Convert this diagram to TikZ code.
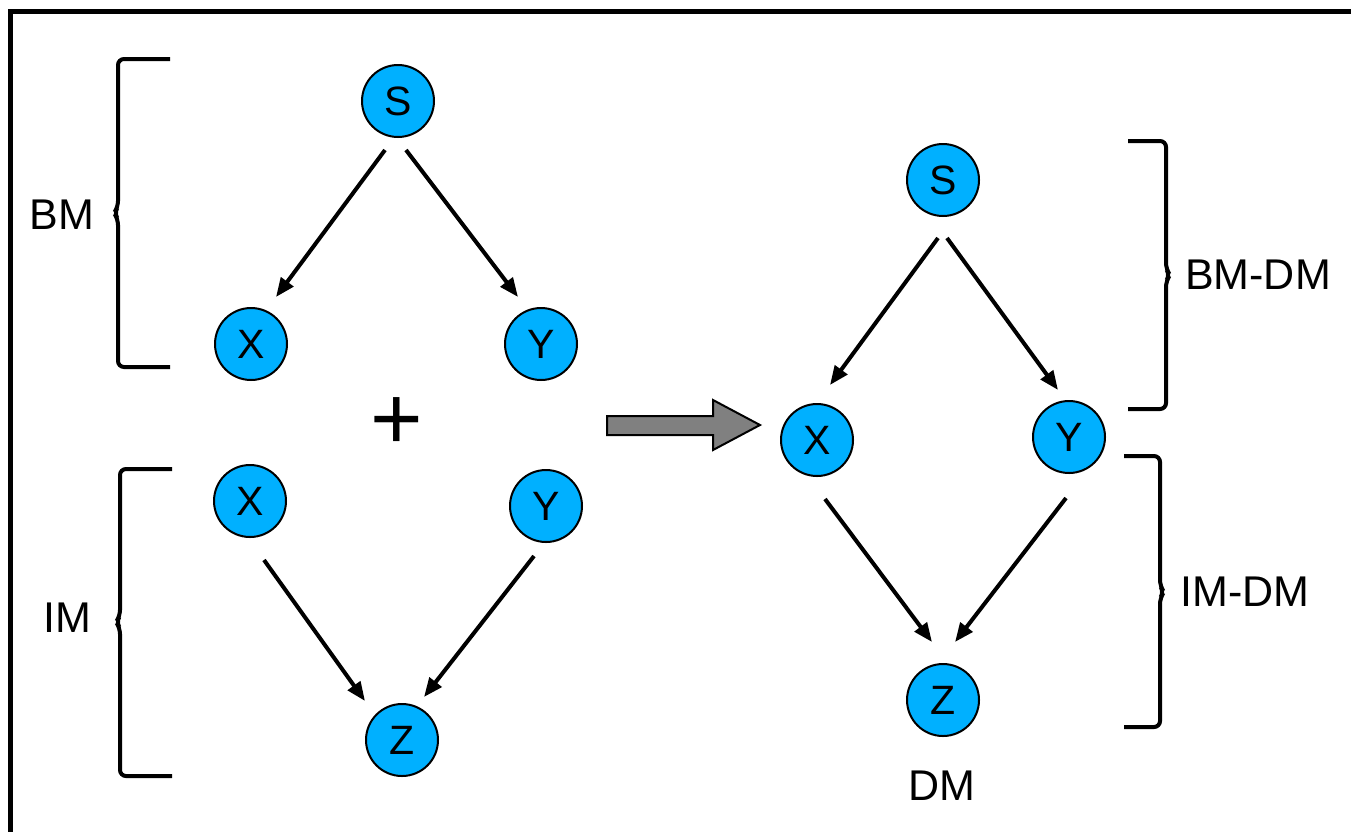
\documentclass[tikz,border=0pt]{standalone}
\usepackage{fontspec}
\setmainfont{Liberation Sans}
\usetikzlibrary{calc,arrows.meta}
\definecolor{nodeblue}{HTML}{00B0FF}
\definecolor{blockgray}{HTML}{808080}
\tikzset{
  vert/.style={circle,draw=black,line width=2pt,fill=nodeblue,minimum size=72pt,inner sep=0pt,font=\fontsize{41}{44}\selectfont},
  edge/.style={line width=4pt,-{Triangle[length=19pt,width=15pt]}},
  bracket/.style={line width=4pt,rounded corners=6pt},
  lbl/.style={font=\fontsize{43}{46}\selectfont,inner sep=0pt},
  frame/.style={line width=5pt}
}
\begin{document}
\begin{tikzpicture}[x=1pt,y=-1pt]
\useasboundingbox (0,0) rectangle (1351,831);
% frame
\coordinate (fb) at (10,840);
\coordinate (fc) at (10,11);
\coordinate (fr) at (1360,11);
\draw[frame] (fb) -- (fc) -- (fr);
% left nodes
\node[vert] (S1) at (398,101) {S};
\node[vert] (X1) at (251,344) {X};
\node[vert] (Y1) at (541,344) {Y};
\node[vert] (X2) at (250,501) {X};
\node[vert] (Y2) at (546,506) {Y};
\node[vert] (Z1) at (402,740) {Z};
% right nodes
\node[vert] (S2) at (943,180) {S};
\node[vert] (X3) at (817,440) {X};
\node[vert] (Y3) at (1069,437) {Y};
\node[vert] (Z2) at (943,700) {Z};
% edges
\draw[edge] ($(S1)+(-13,49)$) -- ($(X1)+(25,-47)$);
\draw[edge] ($(S1)+(8,49)$) -- ($(Y1)+(-23,-47)$);
\draw[edge] ($(X2)+(14,59)$) -- ($(Z1)+(-37,-39)$);
\draw[edge] ($(Y2)+(-12,50)$) -- ($(Z1)+(22,-43)$);
\draw[edge] ($(S2)+(-5,58)$) -- ($(X3)+(13,-55)$);
\draw[edge] ($(S2)+(4,58)$) -- ($(Y3)+(-11,-47)$);
\draw[edge] ($(X3)+(8,59)$) -- ($(Z2)+(-11,-58)$);
\draw[edge] ($(Y3)+(-3,61)$) -- ($(Z2)+(12,-58)$);
% plus
\node[font=\fontsize{90}{90}\selectfont,inner sep=0pt] (plus) at (397,424) {+};
% block arrow
\draw[line width=2pt,fill=blockgray] (607,416) -- (713,416) -- (713,400) -- (760,425) -- (713,450) -- (713,435) -- (607,435) -- cycle;
% brackets
\draw[bracket] (170,59) -- (118,59) -- (118,207) -- (114,213) -- (118,219) -- (118,367) -- (170,367);
\draw[bracket] (172,469) -- (120,469) -- (120,616) -- (116,622) -- (120,628) -- (120,776) -- (172,776);
\draw[bracket] (1128,141) -- (1166,141) -- (1166,269) -- (1170,275) -- (1166,281) -- (1166,409) -- (1128,409);
\draw[bracket] (1124,456) -- (1160,456) -- (1160,586) -- (1164,592) -- (1160,598) -- (1160,727) -- (1124,727);
% labels
\node[lbl] (bm) at (62,215) {BM};
\node[lbl] (im) at (67,618) {IM};
\node[lbl] (bmdm) at (1258,275) {BM-DM};
\node[lbl] (imdm) at (1245,592) {IM-DM};
\node[lbl] (dm) at (942,786) {DM};
\end{tikzpicture}
\end{document}
